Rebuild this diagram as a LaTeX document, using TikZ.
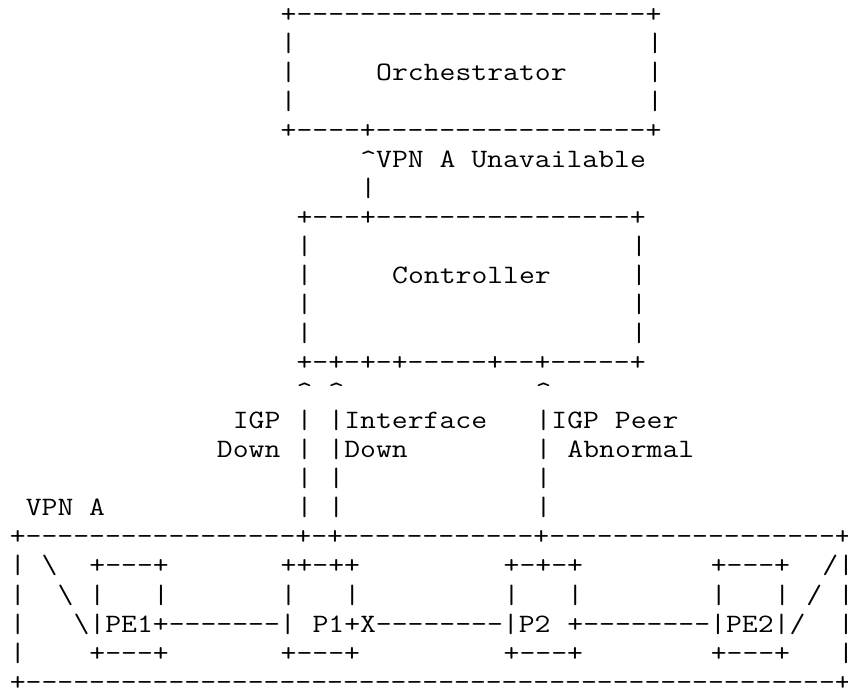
\documentclass[tikz,border=0pt]{standalone}
\usepackage{fontspec}
% Typewriter face, widened so each cell is 0.6em like a Courier grid
\newfontfamily\asciifont{Latin Modern Mono}[FakeStretch=1.1605,Ligatures=TeXOff]
\ExplSyntaxOn
\newcommand\dashrun[1]{\prg_replicate:nn{#1}{-}}
\ExplSyntaxOff
\newcommand\bs{\textbackslash}
\newcommand\caret{\textasciicircum}
\tikzset{
  asc/.style={anchor=base west, inner sep=0pt, outer sep=0pt,
    font={\asciifont\fontsize{26.55pt}{29.05pt}\selectfont}, text=black}
}
% \cell{name}{column}{row}{text}
\newcommand\cell[4]{\node[asc] (#1) at (#2,#3) {#4};}

\begin{document}
\begin{tikzpicture}
\fill[white] (0,0) rectangle (848pt,-694pt);
\useasboundingbox (0,0) rectangle (848pt,-694pt);
\clip (0,0) rectangle (848pt,-694pt);
\begin{scope}[x=15.93pt, y=-29.05pt, shift={(9.84pt,-22pt)}]

% Orchestrator box
\cell{orchTop}{17}{0}{+\dashrun{22}+}
\foreach \r in {1,2,3} {
  \cell{orchL\r}{17}{\r}{|}
  \cell{orchR\r}{40}{\r}{|}
}
\cell{orch}{23}{2}{Orchestrator}
\cell{orchBot}{17}{4}{+\dashrun{4}+\dashrun{17}+}

% Report to orchestrator
\cell{unavail}{22}{5}{\caret VPN A Unavailable}
\cell{upLink}{22}{6}{|}

% Controller box
\cell{ctrlTop}{18}{7}{+\dashrun{3}+\dashrun{16}+}
\foreach \r in {8,9,10,11} {
  \cell{ctrlL\r}{18}{\r}{|}
  \cell{ctrlR\r}{39}{\r}{|}
}
\cell{ctrl}{24}{9}{Controller}
\cell{ctrlBot}{18}{12}{+-+-+-+\dashrun{5}+\dashrun{2}+\dashrun{5}+}

% Reports from the network
\foreach \c in {18,20,33} {
  \cell{tip\c}{\c}{13}{\caret}
  \foreach \r in {14,15,16,17} {
    \cell{feed\c-\r}{\c}{\r}{|}
  }
}
\cell{igpA}{14}{14}{IGP}
\cell{igpB}{13}{15}{Down}
\cell{ifA}{21}{14}{Interface}
\cell{ifB}{21}{15}{Down}
\cell{peerA}{34}{14}{IGP Peer}
\cell{peerB}{35}{15}{Abnormal}

% VPN A frame
\cell{vpn}{1}{17}{VPN A}
\cell{vpnTop}{0}{18}{+\dashrun{17}+-+\dashrun{12}+\dashrun{18}+}
\foreach \r in {19,20,21,22} {
  \cell{vpnL\r}{0}{\r}{|}
  \cell{vpnR\r}{52}{\r}{|}
}
\cell{vpnBot}{0}{23}{+\dashrun{51}+}

% Diagonal markers
\cell{dl19}{2}{19}{\bs}
\cell{dl20}{3}{20}{\bs}
\cell{dl21}{4}{21}{\bs}
\cell{dr19}{51}{19}{/}
\cell{dr20}{50}{20}{/}

% Router boxes, top rows
\cell{pe1Top}{5}{19}{+\dashrun{3}+}
\cell{p1Top}{17}{19}{++-++}
\cell{p2Top}{31}{19}{+-+-+}
\cell{pe2Top}{44}{19}{+\dashrun{3}+}
\foreach \c in {5,9,17,21,31,35,44,48} {
  \cell{side\c}{\c}{20}{|}
}

% Router labels and links
\cell{pe1Row}{5}{21}{|PE1+\dashrun{7}|}
\cell{p1Row}{19}{21}{P1+X\dashrun{8}|P2}
\cell{pe2Row}{35}{21}{+\dashrun{8}|PE2|/}

% Router boxes, bottom rows
\foreach \c in {5,17,31,44} {
  \cell{base\c}{\c}{22}{+\dashrun{3}+}
}

\end{scope}
\end{tikzpicture}
\end{document}
